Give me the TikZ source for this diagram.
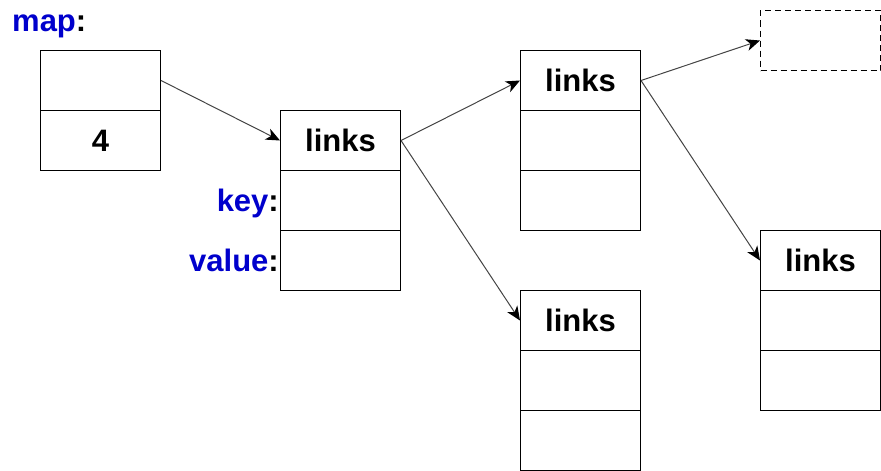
\documentclass[tikz,border=0pt]{standalone}
\usepackage{fontspec}
\setmainfont{Liberation Sans}
\usetikzlibrary{arrows.meta}
\definecolor{lblue}{RGB}{0,0,204}
\definecolor{linkgrey}{RGB}{68,68,68}
\tikzset{
  cell/.style={draw=black, line width=1pt, minimum width=120pt, minimum height=60pt,
    inner sep=0pt, anchor=north west, font=\fontsize{31}{36}\selectfont\bfseries,
    text height=21.5pt, text depth=0pt},
  ghost/.style={cell, dashed, dash pattern=on 6pt off 4pt},
  lbl/.style={anchor=base east, inner sep=0pt, font=\fontsize{31}{36}\selectfont\bfseries},
  link/.style={draw=linkgrey, line width=1pt,
    -{Stealth[length=14pt,width=12pt,inset=4pt,color=black]}}
}
\begin{document}
\begin{tikzpicture}[x=1pt,y=-1pt]
\useasboundingbox (0,0) rectangle (881,471);
% map
\node[anchor=base west, inner sep=0pt, font=\fontsize{31}{36}\selectfont\bfseries] (maplbl) at (12,31) {\textcolor{lblue}{map}:};
\node[cell] (m1) at (40,50) {};
\node[cell] (m2) at (40,110) {4};
% A
\node[cell] (a1) at (280,110) {links};
\node[cell] (a2) at (280,170) {};
\node[cell] (a3) at (280,230) {};
\node[lbl] (keylbl) at (279,211) {\textcolor{lblue}{key}:};
\node[lbl] (vallbl) at (279,271) {\textcolor{lblue}{value}:};
% B
\node[cell] (b1) at (520,50) {links};
\node[cell] (b2) at (520,110) {};
\node[cell] (b3) at (520,170) {};
% C
\node[cell] (c1) at (520,290) {links};
\node[cell] (c2) at (520,350) {};
\node[cell] (c3) at (520,410) {};
% D
\node[cell] (d1) at (760,230) {links};
\node[cell] (d2) at (760,290) {};
\node[cell] (d3) at (760,350) {};
% ghost
\node[ghost] (g) at (760,10) {};
% links
\draw[link] (m1.east) -- (a1.west);
\draw[link] (a1.east) -- (b1.west);
\draw[link] (a1.east) -- (c1.west);
\draw[link] (b1.east) -- (g.west);
\draw[link] (b1.east) -- (d1.west);
\end{tikzpicture}
\end{document}
